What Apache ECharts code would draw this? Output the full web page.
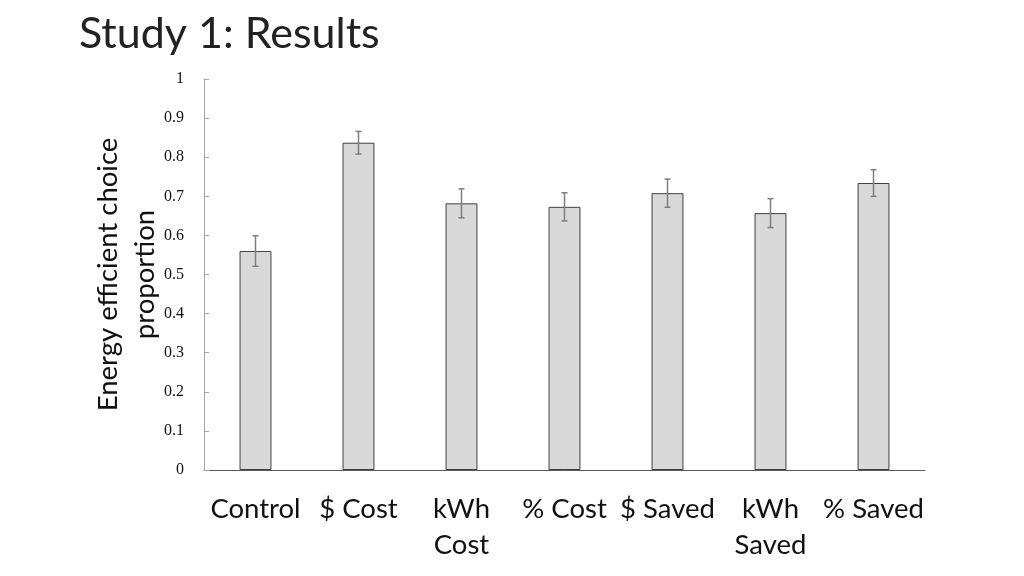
<!DOCTYPE html>
<html><head><meta charset="utf-8">
<script src="https://cdn.jsdelivr.net/npm/echarts@6/dist/echarts.min.js"></script>
<style>html,body{margin:0;padding:0;background:#fff}#c{width:1024px;height:576px}</style>
</head><body><div id="c"></div>
<script>
const categories = ['Control', '$ Cost', 'kWh\nCost', '% Cost', '$ Saved', 'kWh\nSaved', '% Saved'];
const values = [0.560, 0.837, 0.682, 0.673, 0.708, 0.657, 0.734];
const errors = [0.039, 0.029, 0.037, 0.036, 0.036, 0.037, 0.034];
const yTicks = [0, 0.1, 0.2, 0.3, 0.4, 0.5, 0.6, 0.7, 0.8, 0.9, 1];

const chart = echarts.init(document.getElementById('c'));
chart.setOption({
  animation: false,
  title: {
    text: 'Study 1: Results', left: 74, top: 8,
    textStyle: {fontFamily: 'Lato', fontWeight: 'normal', fontSize: 43, color: '#222'}
  },
  grid: {left: 204, right: 99, top: 79, bottom: 106},
  xAxis: {
    type: 'category', data: categories,
    axisLine: {lineStyle: {color: '#595959', width: 1}},
    axisTick: {show: false},
    axisLabel: {fontFamily: 'Lato', fontSize: 27.5, color: '#111', margin: 21, lineHeight: 36, interval: 0}
  },
  yAxis: {
    type: 'value', min: 0, max: 1, interval: 0.1,
    name: 'Energy efficient choice\nproportion', nameLocation: 'middle', nameGap: 40,
    nameMoveOverlap: false,
    nameTextStyle: {fontFamily: 'Lato', fontSize: 27.5, color: '#111', lineHeight: 37},
    axisLine: {show: true, lineStyle: {color: '#a6a6a6'}},
    axisTick: {show: true, inside: true, length: 5, lineStyle: {color: '#a6a6a6'}},
    splitLine: {show: false},
    axisLabel: {fontFamily: 'Liberation Serif', fontSize: 16, color: '#111', margin: 20,
      formatter: v => { const t = yTicks.find(x => Math.abs(x - v) < 1e-9); return t === undefined ? '' : String(t); }}
  },
  series: [{
    type: 'bar', data: values, barWidth: '31%',
    itemStyle: {color: '#d9d9d9', borderColor: '#404040', borderWidth: 1}
  }, {
    type: 'custom',
    data: values.map((v, i) => [i, v - errors[i], v + errors[i]]),
    renderItem: (params, api) => {
      const lo = api.coord([api.value(0), api.value(1)]);
      const hi = api.coord([api.value(0), api.value(2)]);
      const w = 3;
      const st = {stroke: '#7f7f7f', lineWidth: 1.5};
      return {type: 'group', children: [
        {type: 'line', shape: {x1: hi[0], y1: hi[1], x2: lo[0], y2: lo[1]}, style: st},
        {type: 'line', shape: {x1: hi[0]-w, y1: hi[1], x2: hi[0]+w, y2: hi[1]}, style: st},
        {type: 'line', shape: {x1: lo[0]-w, y1: lo[1], x2: lo[0]+w, y2: lo[1]}, style: st}
      ]};
    },
    z: 5
  }]
});
</script></body></html>
